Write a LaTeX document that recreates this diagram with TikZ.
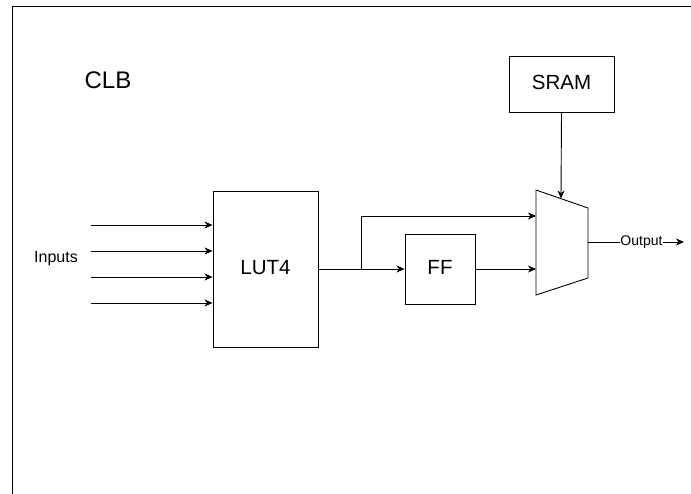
\documentclass[tikz,border=0pt]{standalone}
\usepackage{fontspec}
\setmainfont{Liberation Sans}
\usepackage{tikz}
\usetikzlibrary{positioning, arrows.meta}

\begin{document}
\begin{tikzpicture}[x=1pt, y=-1pt, line width=0.9pt, >={Stealth[length=8pt, width=7pt, inset=2.5pt]},
    block/.style = {draw, rectangle, inner sep=0pt, text depth=0.3em, font=\fontsize{20.5}{22}\selectfont}]
    \useasboundingbox (0,0) rectangle (691,494);
    % 外框
    \draw[line width=1pt] (12,494) -- (12,7) -- (691,7);
    \node[font=\fontsize{24}{26}\selectfont] (clb) at (108,80) {CLB};

    % 节点定义
    \node[block, minimum width=105pt, minimum height=156pt] (lut) at (265.5,269) {LUT4};
    \node[block, minimum width=70pt, minimum height=70pt] (ff) at (440,269) {FF};
    \node[block, minimum width=105pt, minimum height=56pt] (sram) at (561.5,84) {SRAM};
    \node[font=\fontsize{16}{18}\selectfont] (inputs) at (56,259) {Inputs};
    \node[font=\fontsize{14}{16}\selectfont, inner sep=0.5pt] (output) at (641.5,242) {Output};

    % 选择器
    \coordinate (mtl) at (536,190);
    \coordinate (mbl) at (536,295);
    \coordinate (mtr) at (588,208);
    \coordinate (mbr) at (588,278);
    \draw (mtl) -- (mtr) -- (mbr) -- (mbl) -- cycle;
    \coordinate (min1) at (536,216);
    \coordinate (min2) at (536,269);
    \coordinate (mout) at (588,242);
    \coordinate (msel) at (561,198.5);
    \coordinate (split) at (361,269);
    \coordinate (outend) at (684,242);

    % 输入
    \foreach \y [count=\i] in {225,251,277,303} {
        \coordinate (in\i) at (91,\y);
        \draw[->] (in\i) -- (lut.west |- in\i);
    }

    % 边定义
    \draw[->] (lut.east |- split) -- (ff.west);
    \draw[->] (split) |- (min1);
    \draw[->] (ff.east) -- (min2);
    \draw[->] (sram.south) -- (msel);
    \draw (mout) -- (output.west);
    \draw[->] (output.east) -- (outend);
\end{tikzpicture}
\end{document}
